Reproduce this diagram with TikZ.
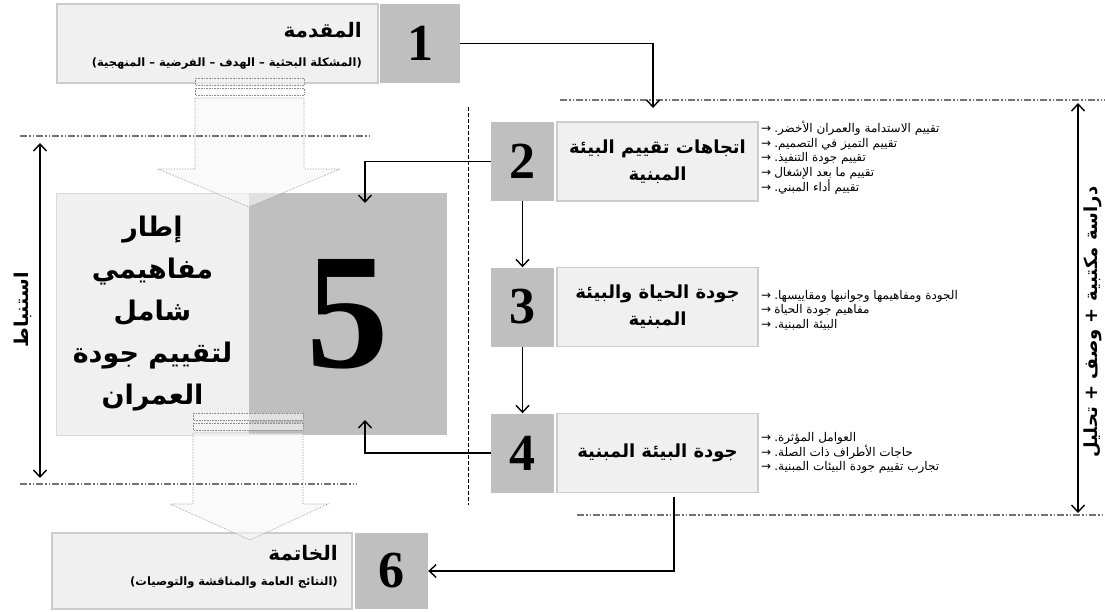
\documentclass[tikz,border=0pt]{standalone}
\usepackage{fontspec}
\setmainfont{Liberation Serif}
\newfontfamily\arabicfont[Script=Arabic]{DejaVu Sans}
\newfontfamily\symfont{DejaVu Sans}
\TeXXeTstate=1
\usetikzlibrary{positioning,arrows.meta}
\newcommand{\artxt}[1]{{\arabicfont\beginR #1\endR}}
\newcommand{\itm}[1]{{\symfont →}~\artxt{#1}}

\begin{document}
\begin{tikzpicture}[x=1pt,y=-1pt,>={Straight Barb[length=7pt,width=13pt]},
  every node/.style={inner sep=0pt},
  txtbox/.style={draw=black!20,line width=1.2pt,fill=black!6,minimum width=201pt,minimum height=79pt,
    align=center,font=\bfseries\fontsize{18}{27}\selectfont},
  numbox/.style={fill=black!25,minimum width=63pt,minimum height=79pt,font=\bfseries\fontsize{52}{52}\selectfont},
  items/.style={anchor=west,align=left,font=\fontsize{12}{14.5}\selectfont},
  link/.style={->,line width=1.4pt},
  bigarrow/.style={draw=black!45,densely dotted,line width=0.6pt,fill=black!3,fill opacity=0.6},
  guide/.style={black!55,line width=1.2pt,dash pattern=on 7pt off 2pt on 1.5pt off 2pt on 1.5pt off 2pt}]
  \useasboundingbox (0,0) rectangle (1105,611);
  % introduction
  \node[txtbox,minimum width=321pt] (box1) at (217.5,43.5) {};
  \node[numbox,minimum width=80pt] (num1) at (420,43.5) {1};
  \node[anchor=east,font=\bfseries\fontsize{20}{20}\selectfont] (title1) at (362,30) {\artxt{المقدمة}};
  \node[anchor=east,font=\bfseries\fontsize{11.5}{11.5}\selectfont] (sub1) at (362,64) {\artxt{(المشكلة البحثية – الهدف – الفرضية – المنهجية)}};
  % literature chapters
  \node[numbox] (num2) at (522.5,161.5) {2};
  \node[txtbox] (box2) at (657.5,161.5) {\artxt{اتجاهات تقييم البيئة}\\\artxt{المبنية}};
  \node[numbox] (num3) at (522.5,307) {3};
  \node[txtbox] (box3) at (657.5,307) {\artxt{جودة الحياة والبيئة}\\\artxt{المبنية}};
  \node[numbox] (num4) at (522.5,453) {4};
  \node[txtbox] (box4) at (657.5,453) {\artxt{جودة البيئة المبنية}};
  \node[items] (list2) at (761,158) {\itm{تقييم الاستدامة والعمران الأخضر.}\\\itm{تقييم التميز في التصميم.}\\
    \itm{تقييم جودة التنفيذ.}\\\itm{تقييم ما بعد الإشغال}\\\itm{تقييم أداء المبني.}};
  \node[items] (list3) at (761,310) {\itm{الجودة ومفاهيمها وجوانبها ومقاييسها.}\\\itm{مفاهيم جودة الحياة}\\\itm{البيئة المبنية.}};
  \node[items] (list4) at (761,453) {\itm{العوامل المؤثرة.}\\\itm{حاجات الأطراف ذات الصلة.}\\\itm{تجارب تقييم جودة البيئات المبنية.}};
  % framework
  \node[fill=black!6,draw=black!15,line width=1pt,minimum width=193pt,minimum height=242pt,align=center,
    font=\bfseries\fontsize{27}{42}\selectfont] (box5) at (152.5,314)
    {\artxt{إطار}\\\artxt{مفاهيمي}\\\artxt{شامل}\\\artxt{لتقييم جودة}\\\artxt{العمران}};
  \node[fill=black!25,minimum width=198pt,minimum height=242pt,font=\bfseries\fontsize{165}{165}\selectfont] (num5) at (348,314) {5};
  % conclusion
  \node[txtbox,minimum width=300pt,minimum height=76pt] (box6) at (202,571) {};
  \node[numbox,minimum width=73pt,minimum height=76pt] (num6) at (391.5,571) {6};
  \node[anchor=east,font=\bfseries\fontsize{20}{20}\selectfont] (title6) at (338,553) {\artxt{الخاتمة}};
  \node[anchor=east,font=\bfseries\fontsize{11.5}{11.5}\selectfont] (sub6) at (338,583) {\artxt{(النتائج العامة والمناقشة والتوصيات)}};
  % big arrows
  \path[bigarrow] (195,78) rectangle (304,85) (195,88) rectangle (304,95);
  \path[bigarrow] (195,98) -- (195,169) -- (158,169) -- (249,207) -- (340,169) -- (304,169) -- (304,98) -- cycle;
  \path[bigarrow] (193,413) rectangle (303,420) (193,423) rectangle (303,430);
  \path[bigarrow] (193,433) -- (193,504) -- (170,504) -- (250,540) -- (328,504) -- (303,504) -- (303,433) -- cycle;
  % guide lines
  \draw[guide] (560,100) -- (1105,100);
  \draw[guide] (20,136) -- (370,136);
  \draw[guide] (20,484) -- (357,484);
  \draw[guide] (577,515) -- (1105,515);
  \draw[dashed,line width=0.8pt,dash pattern=on 4pt off 2pt] (468,107) -- (468,505);
  % connectors
  \coordinate (in2) at (653,108);
  \coordinate (top5) at (365,203);
  \coordinate (bot5) at (365,420);
  \coordinate (out4) at (674,497);
  \draw[link] (num1.east) -| (in2);
  \draw[link] (num2.west) -| (top5);
  \draw[link] (num2) -- (num3);
  \draw[link] (num3) -- (num4);
  \draw[link] (num4.west) -| (bot5);
  \draw[link] (out4) |- (num6.east);
  % side labels
  \coordinate (lt) at (40,143);
  \coordinate (lb) at (40,478);
  \draw[<->,line width=1.4pt] (lt) -- (lb);
  \node[rotate=90,font=\bfseries\fontsize{19}{19}\selectfont] (deduce) at (23,310) {\artxt{استنباط}};
  \coordinate (rt) at (1078,103);
  \coordinate (rb) at (1078,513);
  \draw[<->,line width=1.4pt] (rt) -- (rb);
  \node[rotate=90,font=\bfseries\fontsize{18}{18}\selectfont] (method) at (1093,322) {\artxt{دراسة مكتبية + وصف + تحليل}};
\end{tikzpicture}
\end{document}
